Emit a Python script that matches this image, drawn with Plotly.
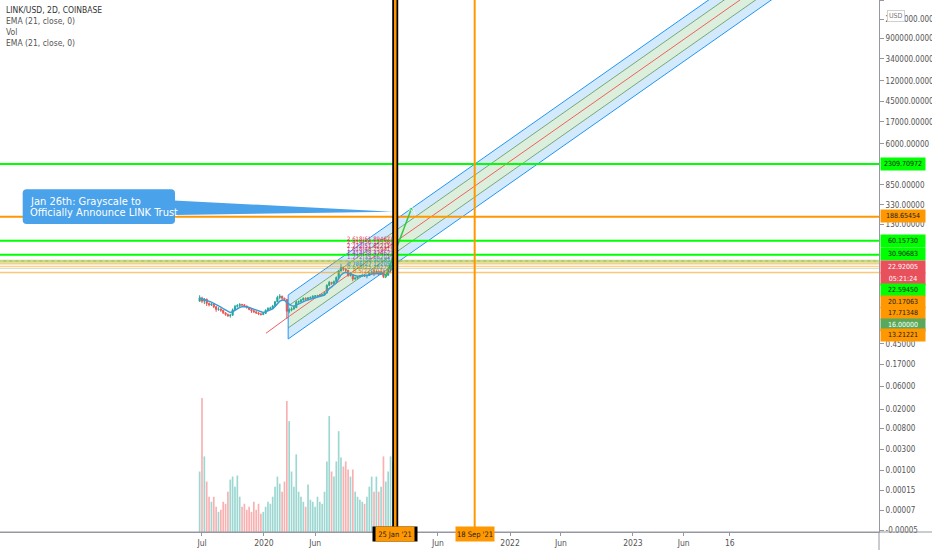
import plotly.graph_objects as go
import pandas as pd

# ---------------- data ----------------
candle_start = '2019-06-24'          # weekly candles (LINK/USD)
first_open = 3.40
close = [3.95, 3.40, 3.75, 3.05, 2.85, 2.95, 2.60, 2.30, 2.35, 2.20,
         1.95, 1.80, 1.70, 1.75, 2.25, 2.65, 2.75, 2.90, 2.85, 2.70,
         2.50, 2.30, 2.15, 2.05, 1.95, 1.85, 1.80, 1.90, 2.20, 2.40,
         2.45, 2.70, 3.30, 4.05, 4.30, 3.90, 3.70, 2.10, 2.25, 2.35,
         2.50, 3.25, 3.35, 3.60, 3.90, 3.80, 3.95, 4.05, 4.30, 4.35,
         4.40, 4.55, 4.60, 5.00, 7.20, 8.30, 7.90, 8.60, 10.50, 14.20,
         16.70, 15.50, 14.80, 11.50, 12.00, 9.70, 10.10, 10.70, 11.30, 11.60,
         11.20, 11.50, 12.80, 13.70, 12.90, 13.70, 12.10, 13.50, 10.90, 11.60,
         14.80, 18.50, 21.50, 22.92]
high = [4.50, 4.20, 3.95, 3.80, 3.20, 3.10, 3.05, 2.70, 2.55, 2.40,
        2.25, 2.00, 1.90, 1.85, 2.40, 2.85, 2.95, 3.10, 3.00, 2.95,
        2.75, 2.55, 2.35, 2.25, 2.10, 2.00, 1.95, 1.98, 2.30, 2.55,
        2.60, 2.85, 3.45, 4.40, 4.75, 4.40, 4.00, 3.75, 2.50, 2.55,
        2.70, 3.55, 3.50, 3.80, 4.05, 4.05, 4.10, 4.25, 4.50, 4.55,
        4.60, 4.75, 4.80, 5.20, 7.60, 8.90, 8.50, 9.10, 11.00, 15.00,
        20.00, 17.50, 16.50, 14.90, 13.50, 12.10, 10.80, 11.20, 11.80, 12.20,
        12.30, 11.90, 13.30, 14.60, 15.60, 14.50, 13.90, 14.00, 13.80, 12.40,
        15.80, 21.00, 22.80, 25.90]
low = [3.30, 3.10, 2.95, 2.70, 2.65, 2.70, 2.45, 2.05, 2.15, 2.05,
       1.85, 1.70, 1.60, 1.55, 1.70, 2.20, 2.50, 2.55, 2.65, 2.60,
       2.40, 2.20, 1.95, 1.95, 1.85, 1.75, 1.72, 1.75, 1.85, 2.15,
       2.30, 2.40, 2.65, 3.25, 3.70, 3.60, 3.40, 1.45, 1.90, 2.10,
       2.25, 2.45, 3.00, 3.25, 3.45, 3.55, 3.50, 3.85, 3.95, 4.10,
       4.20, 4.25, 4.35, 4.50, 4.95, 6.90, 7.40, 7.60, 8.40, 10.20,
       14.00, 14.30, 13.00, 10.80, 11.00, 8.80, 9.40, 9.60, 10.50, 10.90,
       10.70, 10.10, 11.30, 12.50, 11.20, 12.60, 11.90, 11.80, 10.20, 10.40,
       11.40, 13.60, 18.00, 20.60]
volume_k = [600, 1330, 750, 500, 350, 300, 350, 250, 200, 220,
            300, 280, 400, 520, 550, 450, 560, 350, 250, 280,
            220, 250, 200, 300, 220, 280, 180, 200, 250, 300,
            280, 350, 450, 550, 480, 400, 500, 1300, 1100, 600,
            450, 770, 400, 350, 300, 250, 470, 320, 300, 250,
            350, 300, 280, 400, 700, 1150, 600, 550, 700, 1000,
            740, 650, 700, 620, 550, 620, 400, 350, 320, 300,
            280, 350, 450, 550, 400, 550, 400, 450, 750, 500,
            600, 750, 700, 450]

# horizontal price levels
level_values = [2309.70972, 188.65454, 60.15730, 30.90683, 22.92005,
                22.59450, 20.17063, 17.71348, 16.00000, 13.21221]

# pitchfork channel (start / end)
pf_dates = ['2020-03-13', '2024-06-01']
pf_upper_outer = [4.56, 1.48e8]
pf_upper_inner = [2.70, 8.79e7]
pf_median = [1.60, 5.21e7]
pf_lower_inner = [0.951, 3.09e7]
pf_lower_outer = [0.564, 1.83e7]
handle_dates = ['2020-01-07', '2020-03-13']
handle_prices = [0.74, 1.60]

# projection drawing
proj_dates = ['2020-12-26', '2021-03-16']
proj_prices = [10.2, 298.0]
marker_dates = ['2021-01-27', '2021-01-27']
marker_prices = [33.0, 60.0]

# vertical event lines
event_dates = ['2021-01-25', '2021-09-18']
event_labels = ["25 Jan '21", "18 Sep '21"]

# axis ticks
x_tick_dates = ['2019-07-01', '2020-01-01', '2020-06-01', '2021-06-01', '2022-01-01',
                '2022-06-01', '2023-01-01', '2023-06-01', '2023-10-16']
x_tick_text = ['Jul', '2020', 'Jun', 'Jun', '2022', 'Jun', '2023', 'Jun', '16']
y_tick_vals = [5400000, 2200000, 900000, 340000, 120000, 45000, 17000, 6000, 850, 330, 130,
               0.45, 0.17, 0.06, 0.02, 0.008, 0.003, 0.00108, 0.000418, 0.0001667, 0.0000644]
y_tick_text = ['5400000.00000', '2200000.00000', '900000.00000', '340000.00000', '120000.00000',
               '45000.00000', '17000.00000', '6000.00000', '850.00000', '330.00000', '130.00000',
               '0.45000', '0.17000', '0.06000', '0.02000', '0.00800', '0.00300', '0.00100',
               '0.00015', '0.00007', '-0.00005']

fib_texts = ['2.618(61.89467)', '2.414(56.12538)', '2.272(51.82211)', '1.618(45.25931)',
             '1.414(38.47462)', '1.272(35.66201)', '1(30.90683)', '0.786(27.12205)',
             '0.618(25.16279)', '0.5(22.59450)']

# ---------------- derived ----------------
dates = pd.date_range(candle_start, periods=len(close), freq='7D')
open_ = [first_open] + close[:-1]
ema = pd.Series(close).ewm(span=6, adjust=False).mean()
vol_colors = ['rgba(38,166,154,0.45)' if c >= o else 'rgba(239,83,80,0.45)'
              for o, c in zip(open_, close)]

FONT = 'Liberation Sans Narrow, DejaVu Sans Condensed, Arial Narrow, sans-serif'
PW, PH = 879.0, 532.0
def px(x):
    return x / PW
def py(y):
    return 1 - y / PH

fig = go.Figure()

# volume (base axis, hidden)
fig.add_trace(go.Bar(x=dates, y=volume_k, marker_color=vol_colors, marker_line_width=0,
                     width=5 * 86400000, yaxis='y', hoverinfo='skip'))

BLUE = 'rgb(33,150,243)'
GREEN_L = 'rgba(110,160,110,0.9)'
FILL_B = 'rgba(33,150,243,0.2)'
FILL_G = 'rgba(76,175,80,0.2)'
def pf_line(vals, color, fill=None, fillcolor=None):
    fig.add_trace(go.Scatter(x=pf_dates, y=vals, mode='lines', line=dict(color=color, width=1),
                             fill=fill, fillcolor=fillcolor, yaxis='y2', hoverinfo='skip'))
pf_line(pf_lower_outer, BLUE)
pf_line(pf_lower_inner, GREEN_L, 'tonexty', FILL_B)
pf_line(pf_median, '#f06060', 'tonexty', FILL_G)
pf_line(pf_upper_inner, GREEN_L, 'tonexty', FILL_G)
pf_line(pf_upper_outer, BLUE, 'tonexty', FILL_B)
fig.add_trace(go.Scatter(x=[pf_dates[0], pf_dates[0]], y=[pf_lower_outer[0], pf_upper_outer[0]],
                         mode='lines', line=dict(color=BLUE, width=1), yaxis='y2', hoverinfo='skip'))
fig.add_trace(go.Scatter(x=handle_dates, y=handle_prices, mode='lines',
                         line=dict(color='#f06060', width=1), yaxis='y2', hoverinfo='skip'))

# horizontal lines
level_styles = [('#00ff00', 2, 'solid'), ('#ff9800', 2, 'solid'), ('#00ff00', 2, 'solid'),
                ('#00ff00', 2, 'solid'), ('rgba(239,83,80,0.7)', 1, 'dot'),
                ('rgba(150,200,60,0.6)', 3, 'solid'), ('rgba(255,152,0,0.5)', 1.5, 'solid'),
                ('rgba(255,152,0,0.45)', 1.5, 'solid'), ('rgba(120,170,120,0.35)', 1, 'solid'),
                ('rgba(255,152,0,0.55)', 1.5, 'solid')]
for v, (c, w, d) in zip(level_values, level_styles):
    fig.add_trace(go.Scatter(x=['2017-01-01', '2026-01-01'], y=[v, v], mode='lines',
                             line=dict(color=c, width=w, dash=d), yaxis='y2', hoverinfo='skip'))

# candles
fig.add_trace(go.Candlestick(x=dates, open=open_, high=high, low=low, close=close, yaxis='y2',
                             increasing=dict(line=dict(color='#26a69a', width=1), fillcolor='#26a69a'),
                             decreasing=dict(line=dict(color='#ef5350', width=1), fillcolor='#ef5350'),
                             whiskerwidth=0, hoverinfo='skip'))
fig.add_trace(go.Scatter(x=dates, y=ema, mode='lines', line=dict(color='#3a9bd6', width=1.5),
                         yaxis='y2', hoverinfo='skip'))

# projection drawing
fig.add_trace(go.Scatter(x=proj_dates, y=proj_prices, mode='lines+markers',
                         line=dict(color='#2ecc40', width=1.5),
                         marker=dict(symbol='arrow-wide', size=[0, 8], angleref='previous',
                                     color='#2ecc40'),
                         yaxis='y2', hoverinfo='skip'))
fig.add_trace(go.Scatter(x=marker_dates, y=marker_prices, mode='lines',
                         line=dict(color='#1a237e', width=3), yaxis='y2', hoverinfo='skip'))

# vertical event lines
fig.add_trace(go.Scatter(x=[event_dates[0]] * 2, y=[1e-6, 1e9], mode='lines',
                         line=dict(color='black', width=6), yaxis='y2', hoverinfo='skip'))
fig.add_trace(go.Scatter(x=[event_dates[0]] * 2, y=[1e-6, 1e9], mode='lines',
                         line=dict(color='#ff9800', width=2.5), yaxis='y2', hoverinfo='skip'))
fig.add_trace(go.Scatter(x=[event_dates[1]] * 2, y=[1e-6, 1e9], mode='lines',
                         line=dict(color='#ff9800', width=2), yaxis='y2', hoverinfo='skip'))

ann = []
# fib labels
fib_colors = ['#e91e63', '#e91e63', '#c2185b', '#e91e63', '#9c27b0', '#ab47bc',
              '#26a69a', '#2196f3', '#43a047', '#ef6c00']
for i, (t, c) in enumerate(zip(fib_texts, fib_colors)):
    ann.append(dict(x='2021-01-20', y=py(238 + i * 3.6), xref='x', yref='paper', text=t,
                    showarrow=False, xanchor='right', yanchor='middle',
                    font=dict(size=6, color=c, family=FONT)))

# price labels on right axis
label_texts = ['2309.70972', '188.65454', '60.15730', '30.90683', '22.92005', '05:21:24',
               '22.59450', '20.17063', '17.71348', '16.00000', '13.21221']
label_px = [164.3, 216.3, 241.3, 254.3, 267.3, 278.7, 290, 302, 313.3, 324.7, 335.3]
label_bg = ['#00ff00', '#ff9800', '#00ff00', '#00ff00', '#e8505b', '#e8505b', '#00ff00',
            '#ff9800', '#ff9800', '#5aa85a', '#ff9800']
label_fc = ['#1a1a1a', '#1a1a1a', '#1a1a1a', '#1a1a1a', 'white', 'white', '#1a1a1a',
            '#1a1a1a', '#1a1a1a', 'white', '#1a1a1a']
for t, yy, bg, fc in zip(label_texts, label_px, label_bg, label_fc):
    ann.append(dict(x=px(880), y=py(yy), xref='paper', yref='paper', text=t, showarrow=False,
                    xanchor='left', yanchor='middle', bgcolor=bg, width=42, height=10,
                    borderpad=1, font=dict(size=7, color=fc, family=FONT)))
ann.append(dict(x=px(905), y=py(10), xref='paper', yref='paper', text='USD', showarrow=False,
                bgcolor='white', bordercolor='#d0d0d0', borderwidth=1, borderpad=1,
                font=dict(size=7, color='#777', family=FONT)))

# date labels on bottom axis
ann.append(dict(x=event_dates[0], y=py(542), xref='x', yref='paper', text=event_labels[0],
                showarrow=False, bgcolor='black', width=44, height=14, borderpad=0,
                font=dict(size=7.5, color='black', family=FONT)))
ann.append(dict(x=event_dates[0], y=py(542), xref='x', yref='paper', text=event_labels[0],
                showarrow=False, bgcolor='#ff9800', width=38, height=14, borderpad=0,
                font=dict(size=7.5, color='#222', family=FONT)))
ann.append(dict(x=event_dates[1], y=py(542), xref='x', yref='paper', text=event_labels[1],
                showarrow=False, bgcolor='#ff9800', width=38, height=14, borderpad=0,
                font=dict(size=7.5, color='#222', family=FONT)))

# legend text top-left
legend_lines = ['LINK/USD, 2D, COINBASE', 'EMA (21, close, 0)', 'Vol', 'EMA (21, close, 0)']
for i, t in enumerate(legend_lines):
    ann.append(dict(x=px(4), y=py(10 + i * 11), xref='paper', yref='paper', text=t,
                    showarrow=False, xanchor='left', yanchor='middle',
                    font=dict(size=8.5, color='#333' if i == 0 else '#555', family=FONT)))

# callout text
ann.append(dict(x=px(28), y=py(201), xref='paper', yref='paper', text='Jan 26th: Grayscale to',
                showarrow=False, xanchor='left', yanchor='middle',
                font=dict(size=11, color='white', family=FONT)))
ann.append(dict(x=px(28), y=py(212), xref='paper', yref='paper',
                text='Officially Announce LINK Trust', showarrow=False, xanchor='left',
                yanchor='middle', font=dict(size=11, color='white', family=FONT)))

# callout shape
x0, x1, y0, y1, r = 22.7, 175.0, 189.3, 224.0, 4.0
def P(x, y):
    return f'{px(x):.5f},{py(y):.5f}'
box_path = (f'M {P(x0 + r, y0)} L {P(x1 - r, y0)} Q {P(x1, y0)} {P(x1, y0 + r)} '
            f'L {P(x1, y1 - r)} Q {P(x1, y1)} {P(x1 - r, y1)} L {P(x0 + r, y1)} '
            f'Q {P(x0, y1)} {P(x0, y1 - r)} L {P(x0, y0 + r)} Q {P(x0, y0)} {P(x0 + r, y0)} Z')
tail_path = f'M {P(174, 200.5)} L {P(393, 211.7)} L {P(174, 215)} Z'
CALL = '#49a2ea'
shapes = [
    dict(type='path', xref='paper', yref='paper', path=tail_path, fillcolor=CALL,
         line=dict(width=0), layer='above'),
    dict(type='path', xref='paper', yref='paper', path=box_path, fillcolor=CALL,
         line=dict(width=0), layer='above'),
    dict(type='line', xref='paper', yref='paper', x0=0, x1=932 / PW, y0=0, y1=0,
         line=dict(color='#9598a1', width=1)),
    dict(type='line', xref='paper', yref='paper', x0=1, x1=1, y0=0, y1=-18 / PH,
         line=dict(color='#9598a1', width=1)),
]

fig.update_layout(
    width=932, height=550, margin=dict(l=0, r=53, t=0, b=18, pad=0, autoexpand=False),
    paper_bgcolor='white', plot_bgcolor='white', showlegend=False,
    font=dict(family=FONT, size=9, color='#555'),
    xaxis=dict(type='date', range=['2017-11-08', '2025-01-01'], rangeslider=dict(visible=False),
               automargin=False,
               showgrid=False, zeroline=False, showline=True, linecolor='#9598a1',
               ticks='outside', ticklen=3, tickcolor='#9598a1', tickvals=x_tick_dates,
               ticktext=x_tick_text, tickfont=dict(size=8.5, color='#555', family=FONT)),
    yaxis=dict(range=[0, max(volume_k) / 0.252], visible=False, fixedrange=True,
               automargin=False),
    yaxis2=dict(type='log', overlaying='y', side='right', range=[-4.232, 6.746],
                automargin=False,
                showgrid=False, zeroline=False, showline=True, linecolor='#9598a1',
                ticks='outside', ticklen=4, tickcolor='#9598a1', tickvals=y_tick_vals,
                ticktext=y_tick_text, tickfont=dict(size=8, color='#555', family=FONT)),
    annotations=ann, shapes=shapes,
)

fig.write_html('out.html', config={'displayModeBar': False},
               post_script="document.body.style.margin='0';document.body.style.padding='0';")
